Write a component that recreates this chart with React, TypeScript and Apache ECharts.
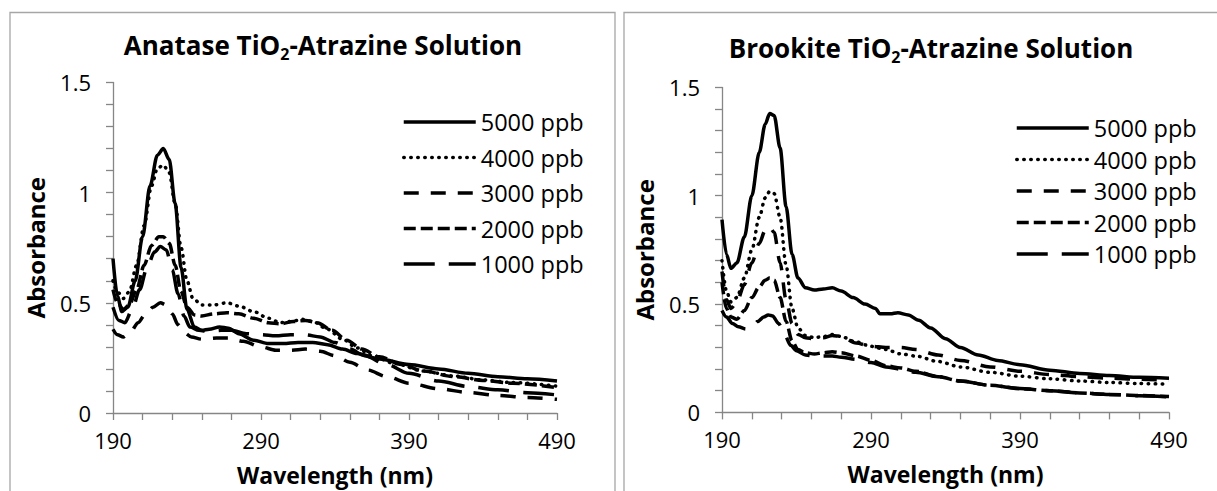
import React, { useEffect, useRef } from "react";
import * as echarts from "echarts";

// ---------- DATA (wavelength nm, absorbance) ----------
const seriesNames = ["5000 ppb", "4000 ppb", "3000 ppb", "2000 ppb", "1000 ppb"];
const xTickLabels = [190, 290, 390, 490];
const yTickLabels = [0, 0.5, 1, 1.5];

const anatase5000: [number, number][] = [
  [190, 0.7], [193, 0.53], [196, 0.46], [200, 0.48], [205, 0.6], [210, 0.8], [215, 1.03],
  [220, 1.17], [224, 1.2], [228, 1.15], [232, 0.95], [236, 0.66], [240, 0.47], [245, 0.39],
  [250, 0.375], [255, 0.38], [262, 0.39], [268, 0.385], [275, 0.36], [285, 0.33], [295, 0.315],
  [305, 0.315], [315, 0.32], [325, 0.32], [335, 0.31], [345, 0.29], [355, 0.27], [370, 0.245],
  [390, 0.22], [410, 0.2], [430, 0.18], [450, 0.165], [470, 0.155], [490, 0.145],
];
const anatase4000: [number, number][] = [
  [190, 0.6], [193, 0.55], [197, 0.52], [201, 0.55], [206, 0.67], [211, 0.85], [216, 1.03],
  [220, 1.11], [224, 1.125], [228, 1.09], [232, 0.95], [236, 0.75], [240, 0.6], [244, 0.52],
  [250, 0.49], [258, 0.49], [267, 0.5], [275, 0.485], [285, 0.46], [295, 0.43], [303, 0.41],
  [310, 0.415], [318, 0.425], [325, 0.415], [335, 0.38], [345, 0.335], [355, 0.295], [365, 0.26],
  [380, 0.225], [400, 0.19], [420, 0.168], [440, 0.15], [460, 0.138], [490, 0.122],
];
const anatase3000: [number, number][] = [
  [190, 0.38], [193, 0.355], [197, 0.345], [202, 0.37], [207, 0.41], [212, 0.45], [217, 0.48],
  [222, 0.5], [226, 0.49], [230, 0.45], [234, 0.4], [238, 0.365], [243, 0.345], [250, 0.335],
  [260, 0.34], [268, 0.34], [278, 0.325], [290, 0.3], [300, 0.285], [310, 0.285], [320, 0.29],
  [330, 0.28], [340, 0.26], [350, 0.23], [362, 0.195], [375, 0.165], [390, 0.135], [410, 0.11],
  [430, 0.093], [450, 0.08], [470, 0.07], [490, 0.062],
];
const anatase2000: [number, number][] = [
  [190, 0.56], [193, 0.5], [197, 0.47], [201, 0.49], [206, 0.56], [211, 0.67], [216, 0.76],
  [221, 0.8], [224, 0.8], [228, 0.77], [232, 0.67], [236, 0.55], [240, 0.48], [245, 0.445],
  [250, 0.44], [258, 0.45], [267, 0.455], [275, 0.45], [285, 0.43], [295, 0.41], [303, 0.405],
  [312, 0.415], [320, 0.42], [328, 0.41], [338, 0.375], [348, 0.33], [358, 0.29], [370, 0.255],
  [385, 0.22], [400, 0.19], [420, 0.165], [440, 0.148], [460, 0.135], [490, 0.115],
];
const anatase1000: [number, number][] = [
  [190, 0.48], [194, 0.42], [198, 0.41], [203, 0.47], [208, 0.56], [213, 0.66], [218, 0.73],
  [222, 0.755], [226, 0.74], [230, 0.65], [234, 0.54], [238, 0.44], [242, 0.39], [248, 0.375],
  [255, 0.37], [263, 0.375], [270, 0.375], [280, 0.36], [290, 0.355], [300, 0.35], [310, 0.355],
  [320, 0.355], [330, 0.345], [340, 0.32], [350, 0.29], [360, 0.26], [375, 0.22], [390, 0.18],
  [410, 0.145], [430, 0.12], [450, 0.105], [470, 0.092], [490, 0.082],
];

const brookite5000: [number, number][] = [
  [190, 0.89], [193, 0.73], [196, 0.665], [200, 0.69], [205, 0.81], [210, 1.0], [215, 1.2],
  [219, 1.33], [222, 1.38], [225, 1.37], [229, 1.22], [233, 0.95], [237, 0.73], [241, 0.62],
  [246, 0.575], [252, 0.565], [258, 0.57], [264, 0.575], [270, 0.56], [278, 0.53], [286, 0.5],
  [293, 0.48], [296, 0.455], [303, 0.455], [308, 0.46], [315, 0.45], [322, 0.425], [330, 0.39],
  [340, 0.34], [350, 0.3], [362, 0.265], [375, 0.24], [390, 0.22], [410, 0.195], [430, 0.18],
  [450, 0.17], [470, 0.162], [490, 0.158],
];
const brookite4000: [number, number][] = [
  [190, 0.7], [193, 0.56], [196, 0.51], [200, 0.53], [205, 0.62], [210, 0.75], [215, 0.9],
  [219, 0.99], [222, 1.02], [225, 1.01], [229, 0.9], [233, 0.68], [237, 0.48], [241, 0.39],
  [246, 0.355], [252, 0.345], [258, 0.35], [264, 0.36], [270, 0.35], [280, 0.325], [290, 0.305],
  [300, 0.29], [310, 0.27], [320, 0.26], [335, 0.235], [350, 0.21], [370, 0.185], [390, 0.167],
  [410, 0.155], [430, 0.145], [450, 0.138], [470, 0.133], [490, 0.13],
];
const brookite3000: [number, number][] = [
  [190, 0.65], [193, 0.52], [196, 0.48], [200, 0.51], [205, 0.59], [210, 0.69], [215, 0.78],
  [219, 0.84], [222, 0.855], [225, 0.83], [229, 0.69], [233, 0.52], [237, 0.41], [241, 0.36],
  [246, 0.345], [252, 0.34], [258, 0.345], [264, 0.355], [270, 0.35], [280, 0.32], [290, 0.305],
  [300, 0.3], [310, 0.3], [320, 0.29], [335, 0.265], [350, 0.24], [370, 0.21], [390, 0.19],
  [410, 0.175], [430, 0.165], [450, 0.158], [470, 0.153], [490, 0.148],
];
const brookite2000: [number, number][] = [
  [190, 0.6], [193, 0.48], [196, 0.44], [200, 0.43], [205, 0.47], [210, 0.53], [215, 0.58],
  [219, 0.61], [222, 0.62], [225, 0.61], [229, 0.53], [233, 0.42], [237, 0.33], [241, 0.29],
  [246, 0.275], [252, 0.27], [258, 0.275], [264, 0.28], [270, 0.275], [280, 0.26], [290, 0.24],
  [300, 0.215], [310, 0.205], [320, 0.19], [335, 0.165], [350, 0.145], [370, 0.125], [390, 0.11],
  [410, 0.1], [430, 0.09], [450, 0.083], [470, 0.078], [490, 0.073],
];
const brookite1000: [number, number][] = [
  [190, 0.47], [193, 0.44], [197, 0.41], [201, 0.395], [206, 0.385], [210, 0.39], [214, 0.42],
  [218, 0.44], [221, 0.45], [224, 0.445], [228, 0.41], [232, 0.36], [236, 0.31], [240, 0.285],
  [246, 0.265], [252, 0.26], [258, 0.26], [264, 0.26], [270, 0.255], [280, 0.245], [290, 0.23],
  [300, 0.21], [310, 0.2], [320, 0.185], [335, 0.165], [350, 0.145], [370, 0.125], [390, 0.11],
  [410, 0.1], [430, 0.09], [450, 0.083], [470, 0.077], [490, 0.072],
];

const anataseSeries = [anatase5000, anatase4000, anatase3000, anatase2000, anatase1000];
const brookiteSeries = [brookite5000, brookite4000, brookite3000, brookite2000, brookite1000];

// ---------- STYLE ----------
const X0 = 190; // axis starts at 190 nm; axis values are offsets from it
const FONT = "'Open Sans', 'Noto Sans', sans-serif";
const AXIS_GRAY = "#868686";
const LW = 3.5;

const lineStyles: any[] = [
  { type: "solid", cap: "butt" },
  { type: [0.5, 6.5], cap: "round" },
  { type: [15, 12], cap: "butt" },
  { type: [12, 5], cap: "butt" },
  { type: [31, 14], cap: "butt" },
];

function buildSeries(sets: [number, number][][], idx: number) {
  return sets.map((pts, i) => ({
    type: "line",
    name: seriesNames[i],
    xAxisIndex: idx,
    yAxisIndex: idx,
    data: pts.map(([w, a]) => [w - X0, a]),
    symbol: "none",
    showSymbol: false,
    smooth: 0.3,
    smoothMonotone: "x",
    lineStyle: { color: "#000", width: LW, ...lineStyles[i] },
    emphasis: { disabled: true },
    z: 10 - i,
  }));
}

function xAxis(idx: number) {
  return {
    type: "value",
    gridIndex: idx,
    min: 0,
    max: 300,
    interval: 20,
    name: "Wavelength (nm)",
    nameLocation: "middle",
    nameGap: 50,
    nameTextStyle: { fontFamily: FONT, fontWeight: "bold", fontSize: 23, color: "#000" },
    axisLine: { onZero: false, lineStyle: { color: AXIS_GRAY, width: 1.3 } },
    axisTick: { show: true, inside: false, length: 7, lineStyle: { color: AXIS_GRAY, width: 1.3 } },
    axisLabel: {
      margin: 16,
      fontFamily: FONT,
      fontSize: 22,
      color: "#000",
      formatter: (v: number) => {
        const w = Math.round(v + X0);
        return xTickLabels.indexOf(w) >= 0 ? String(w) : "";
      },
    },
    splitLine: { show: false },
  };
}

function yAxis(idx: number) {
  return {
    type: "value",
    gridIndex: idx,
    min: 0,
    max: 1.5,
    interval: 0.1,
    name: "Absorbance",
    nameLocation: "middle",
    nameGap: 66,
    nameRotate: 90,
    nameTextStyle: { fontFamily: FONT, fontWeight: "bold", fontSize: 24, color: "#000" },
    axisLine: { show: true, lineStyle: { color: AXIS_GRAY, width: 1.3 } },
    axisTick: { show: true, inside: false, length: 7, lineStyle: { color: AXIS_GRAY, width: 1.3 } },
    axisLabel: {
      margin: 22,
      fontFamily: FONT,
      fontSize: 22,
      color: "#000",
      formatter: (v: number) => {
        const r = Math.round(v * 10) / 10;
        return yTickLabels.indexOf(r) >= 0 ? String(r) : "";
      },
    },
    splitLine: { show: false },
  };
}

function legend(left: number, top: number, gap: number) {
  return {
    orient: "vertical",
    left,
    top,
    padding: 0,
    itemWidth: 72,
    itemHeight: 14,
    itemGap: gap,
    selectedMode: false,
    itemStyle: { opacity: 0, color: "transparent", borderWidth: 0 },
    textStyle: { fontFamily: FONT, fontSize: 23.5, color: "#000", lineHeight: 24 },
    data: seriesNames.map((n, i) => ({
      name: n,
      lineStyle: { color: "#000", width: LW, ...lineStyles[i] },
    })),
  };
}

function title(text: string, left: number, top: number) {
  return {
    text,
    left,
    top,
    textAlign: "center",
    padding: 0,
    textStyle: {
      fontFamily: FONT,
      fontWeight: "bold",
      fontSize: 26,
      color: "#000",
      lineHeight: 34,
      rich: {
        s: { fontFamily: FONT, fontWeight: "bold", fontSize: 16, lineHeight: 16, verticalAlign: "bottom", color: "#000" },
      },
    },
  };
}

export default function App() {
  const ref = useRef<HTMLDivElement>(null);
  useEffect(() => {
    if (!ref.current) return;
    const chart = echarts.init(ref.current, undefined, { renderer: "svg" });
    chart.setOption({
      animation: false,
      backgroundColor: "#fff",
      title: [
        title("Anatase TiO{s|2}-Atrazine Solution", 323, 28),
        title("Brookite TiO{s|2}-Atrazine Solution", 931, 31),
      ],
      grid: [
        { left: 113, top: 82.4, width: 444, height: 331, containLabel: false },
        { left: 722, top: 87.4, width: 447, height: 325, containLabel: false },
      ],
      xAxis: [xAxis(0), xAxis(1)],
      yAxis: [yAxis(0), yAxis(1)],
      legend: [legend(402, 110, 11.5), legend(1015, 116, 7.5)],
      graphic: [
        { type: "rect", shape: { x: 10, y: 12.5, width: 605, height: 520 }, style: { fill: "none", stroke: "#a6a6a6", lineWidth: 1.3 }, silent: true },
        { type: "rect", shape: { x: 624, y: 12.5, width: 640, height: 520 }, style: { fill: "none", stroke: "#a6a6a6", lineWidth: 1.3 }, silent: true },
      ],
      series: [...buildSeries(anataseSeries, 0), ...buildSeries(brookiteSeries, 1)],
    });
    return () => chart.dispose();
  }, []);
  return (
    <div
      ref={ref}
      style={{ position: "fixed", left: 0, top: 0, width: 1217, height: 491, background: "#fff" }}
    />
  );
}
